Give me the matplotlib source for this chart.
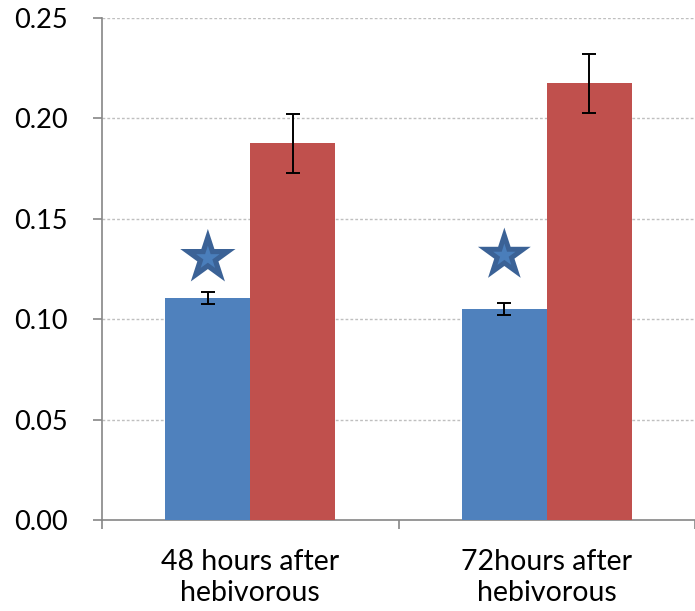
import matplotlib.pyplot as plt
import numpy as np

plt.rcParams['font.family'] = ['Lato', 'DejaVu Sans']

categories = ['48 hours after\nhebivorous', '72hours after\nhebivorous']
blue_vals = [0.1107, 0.1051]
blue_err = [0.0029, 0.0028]
red_vals = [0.1876, 0.2175]
red_err = [0.0148, 0.0148]
star_y = [0.1305, 0.1318]
star_size = [1750, 1600]

fig = plt.figure(figsize=(6.95, 6.11), dpi=100)
ax = fig.add_axes([0.1468, 0.1489, 0.8532, 0.8216])

x = np.arange(len(categories))
w = 0.286
ax.bar(x - w / 2, blue_vals, w, color='#4F81BD', zorder=3)
ax.bar(x + w / 2, red_vals, w, color='#C0504D', zorder=3)
ax.errorbar(x - w / 2, blue_vals, yerr=blue_err, fmt='none', ecolor='black',
            elinewidth=1.4, capsize=5, capthick=1.4, zorder=4)
ax.errorbar(x + w / 2, red_vals, yerr=red_err, fmt='none', ecolor='black',
            elinewidth=1.4, capsize=5, capthick=1.4, zorder=4)

# significance stars above the blue bars
ax.scatter(x - w / 2, star_y, s=star_size, marker='*', color='#3B6296',
           linewidths=0, zorder=5)
ax.scatter(x - w / 2, star_y, s=[s * 0.18 for s in star_size], marker='*',
           color='#4A7EBB', linewidths=0, zorder=6)

ax.set_xlim(-0.5, 1.5)
ax.set_ylim(0, 0.25)
ax.set_yticks(np.arange(0, 0.251, 0.05))
ax.set_yticklabels([f'{v:.2f}' for v in np.arange(0, 0.251, 0.05)], fontsize=19.5)
ax.set_xticks(x)
ax.set_xticklabels(categories, fontsize=20.5, linespacing=1.25)
ax.tick_params(axis='x', length=0, pad=21)
ax.set_xticks([-0.5, 0.5, 1.5], minor=True)
ax.tick_params(axis='x', which='minor', length=6.5, color='#868686', width=1.2)
ax.tick_params(axis='y', length=6.5, color='#868686', width=1.2, pad=18)

for v in np.arange(0.05, 0.251, 0.05):
    ax.axhline(v, color='#BFBFBF', linestyle=(0, (2, 1.5)), linewidth=1, zorder=1)

for s in ['top', 'right']:
    ax.spines[s].set_visible(False)
for s in ['left', 'bottom']:
    ax.spines[s].set_color('#868686')
    ax.spines[s].set_linewidth(1.2)

fig.savefig('out.png', dpi=100)
